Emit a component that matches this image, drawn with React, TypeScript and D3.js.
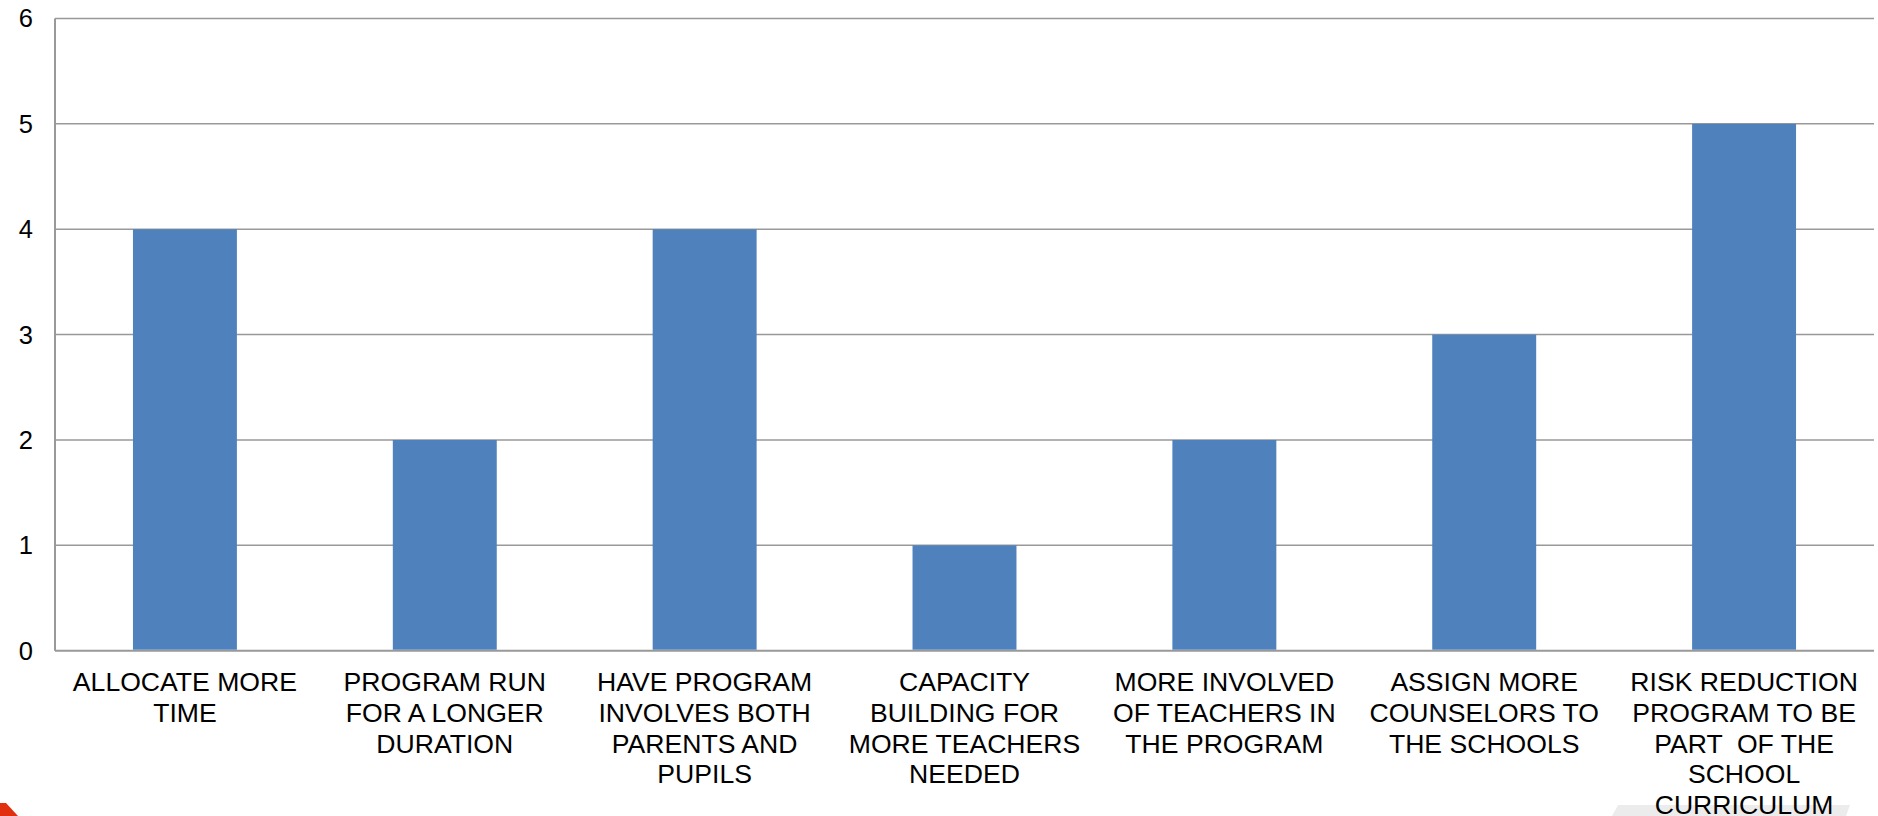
import React from "react";
import * as d3 from "d3";

const categories: string[][] = [
  ["ALLOCATE MORE", "TIME"],
  ["PROGRAM RUN", "FOR A LONGER", "DURATION"],
  ["HAVE PROGRAM", "INVOLVES BOTH", "PARENTS AND", "PUPILS"],
  ["CAPACITY", "BUILDING FOR", "MORE TEACHERS", "NEEDED"],
  ["MORE INVOLVED", "OF TEACHERS IN", "THE PROGRAM"],
  ["ASSIGN MORE", "COUNSELORS TO", "THE SCHOOLS"],
  ["RISK REDUCTION", "PROGRAM TO BE", "PART  OF THE", "SCHOOL", "CURRICULUM"],
];
const values: number[] = [4, 2, 4, 1, 2, 3, 5];
const yTicks: number[] = [0, 1, 2, 3, 4, 5, 6];

const W = 1878;
const H = 816;
const left = 55;
const right = 1874;
const top = 18.5;
const bottom = 650.7;
const FONT = "'Liberation Sans', Arial, sans-serif";

export default function App() {
  const x = d3
    .scaleBand<number>()
    .domain(d3.range(values.length))
    .range([left, right])
    .paddingInner(0.6)
    .paddingOuter(0.3);
  const y = d3.scaleLinear().domain([0, 6]).range([bottom, top]);

  return (
    <svg
      width={W}
      height={H}
      style={{ position: "absolute", left: 0, top: 0, background: "#fff" }}
    >
      <rect x={0} y={0} width={W} height={H} fill="#fff" />
      {/* decorations at bottom */}
      <polygon points="0,803 6,803 18,816 0,816" fill="#e03010" />
      <polygon points="1618,805 1850,805 1846,816 1612,816" fill="#ececec" />
      {/* gridlines */}
      {yTicks.map((t) => (
        <line
          key={"g" + t}
          x1={left}
          x2={right}
          y1={y(t)}
          y2={y(t)}
          stroke="#999"
          strokeWidth={t === 0 ? 2 : 1.5}
        />
      ))}
      <line x1={left} x2={left} y1={top} y2={bottom} stroke="#999" strokeWidth={2} />
      {/* bars */}
      {values.map((v, i) => (
        <rect
          key={"b" + i}
          x={x(i)}
          y={y(v)}
          width={x.bandwidth()}
          height={y(0) - y(v) - 1}
          fill="#4F81BD"
        />
      ))}
      {/* y tick labels */}
      {yTicks.map((t) => (
        <text
          key={"t" + t}
          x={33}
          y={y(t)}
          dy="0.35em"
          textAnchor="end"
          fontFamily={FONT}
          fontSize={25.5}
          fill="#000"
        >
          {t}
        </text>
      ))}
      {/* category labels */}
      {categories.map((lines, i) => (
        <text
          key={"c" + i}
          textAnchor="middle"
          fontFamily={FONT}
          fontSize={26.6}
          fill="#000"
          style={{ whiteSpace: "pre" }}
        >
          {lines.map((ln, j) => (
            <tspan
              key={j}
              x={(x(i) as number) + x.bandwidth() / 2}
              y={bottom + 40 + j * 30.9}
            >
              {ln}
            </tspan>
          ))}
        </text>
      ))}
    </svg>
  );
}
